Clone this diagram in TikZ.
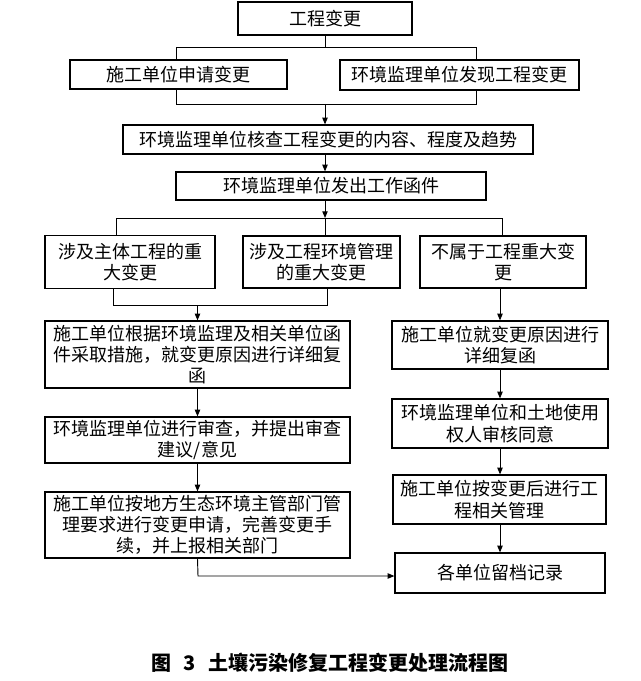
\documentclass[tikz,border=0pt]{standalone}
\usepackage{fontspec}
\setmainfont{Noto Sans CJK SC}
\usetikzlibrary{arrows.meta}

\begin{document}
\begin{tikzpicture}[x=0.75pt,y=-0.75pt,
  box/.style 2 args={draw,line width=0.9pt,minimum width=#1*0.75pt,minimum height=#2*0.75pt,
    inner sep=0pt,align=center,font=\fontsize{13.5}{16}\selectfont},
  line/.style={line width=0.7pt},
  arr/.style={line width=0.7pt,-{Triangle[length=5pt,width=4pt]}}]
  \useasboundingbox (0,0) rectangle (640,681);
  \node[box={174}{33}] (change) at (325,18.5) {工程变更};
  \node[box={217}{29}] (apply) at (178.5,74.5) {施工单位申请变更};
  \node[box={239}{30}] (find) at (459.5,75) {环境监理单位发现工程变更};
  \node[box={410}{29}] (check) at (328,139.5) {环境监理单位核查工程变更的内容、程度及趋势};
  \node[box={310}{28}] (letter) at (331,186) {环境监理单位发出工作函件};
  \node[box={170}{53}] (major1) at (130,262) {涉及主体工程的重\\大变更};
  \node[box={157}{52}] (major2) at (321.5,262) {涉及工程环境管理\\的重大变更};
  \node[box={166}{52}] (minor) at (503,262) {不属于工程重大变\\更};
  \node[box={305}{67}] (reply1) at (197.5,354.5) {施工单位根据环境监理及相关单位函\\件采取措施，就变更原因进行详细复\\函};
  \node[box={216}{48}] (reply2) at (500,345) {施工单位就变更原因进行\\详细复函};
  \node[box={305}{46}] (review) at (197.5,440) {环境监理单位进行审查，并提出审查\\建议/意见};
  \node[box={216}{49}] (agree) at (500,423.5) {环境监理单位和土地使用\\权人审核同意};
  \node[box={305}{66}] (report) at (197.5,525) {施工单位按地方生态环境主管部门管\\理要求进行变更申请，完善变更手\\续，并上报相关部门};
  \node[box={213}{49}] (manage) at (499.5,499.5) {施工单位按变更后进行工\\程相关管理};
  \node[box={210}{40}] (archive) at (500,573) {各单位留档记录};
  \node[font=\fontsize{15}{18}\selectfont\bfseries] (caption) at (330,663) {图\hspace{0.6em}3\hspace{0.6em}土壤污染修复工程变更处理流程图};
  \coordinate (s1) at (176,47);
  \coordinate (s2) at (476,47);
  \coordinate (m1) at (176,104);
  \coordinate (m2) at (476,104);
  \coordinate (f1) at (116,218);
  \coordinate (f3) at (502,218);
  \coordinate (g1) at (113,305);
  \coordinate (g2) at (327,305);
  \coordinate (k) at (198,576);
  \draw[line] (change.south) -- (change.south |- s1);
  \draw[line] (apply.north -| s1) -- (s1) -- (s2) -- (find.north -| s2);
  \draw[line] (apply.south -| m1) -- (m1) -- (m2) -- (find.south -| m2);
  \draw[arr] (change |- m1) -- (check.north -| change);
  \draw[arr] (check.south -| change) -- (letter.north -| change);
  \draw[arr] (letter.south -| change) -- (change |- f1);
  \draw[line] (major1.north -| f1) -- (f1) -- (f3) -- (minor.north -| f3);
  \draw[line] (change |- f1) -- (major2.north -| change);
  \draw[line] (major1.south -| g1) -- (g1) -- (g2) -- (major2.south -| g2);
  \draw[arr] (reply1 |- g1) -- (reply1.north);
  \draw[arr] (minor.south -| reply2) -- (reply2.north);
  \draw[arr] (reply1.south) -- (review.north);
  \draw[arr] (review.south) -- (report.north);
  \draw[arr] (reply2.south) -- (agree.north);
  \draw[arr] (agree.south) -- (manage.north -| agree);
  \draw[arr] (manage.south -| agree) -- (archive.north -| agree);
  \draw[arr] (report.south) -- (k) -- (archive.west |- k);
\end{tikzpicture}
\end{document}
